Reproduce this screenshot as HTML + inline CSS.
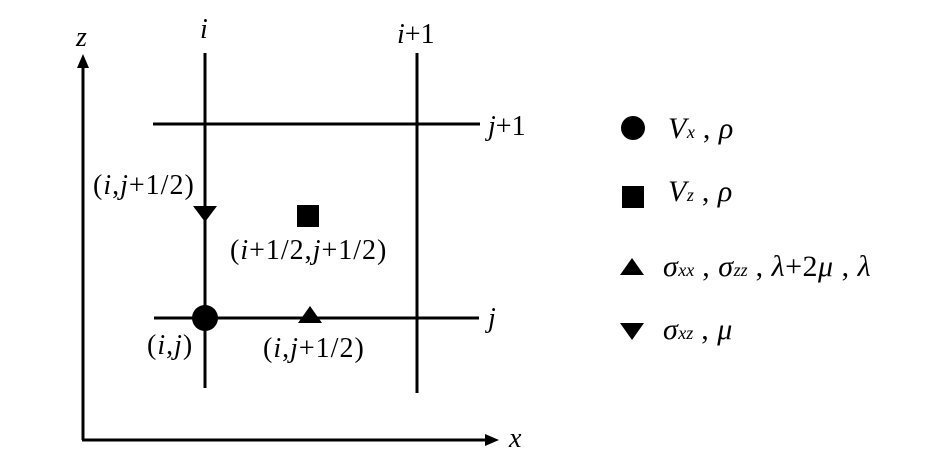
<!DOCTYPE html>
<html><head><meta charset="utf-8"><style>
html,body{margin:0;padding:0;background:#fff;width:945px;height:472px;overflow:hidden}
svg text{font-family:"Liberation Serif","DejaVu Serif",serif;font-size:28px;fill:#000}
.lab{letter-spacing:1px}
.s{font-size:18px;font-style:italic;letter-spacing:0}
.i{font-style:italic}
.L{font-size:30px;letter-spacing:0.5px}
</style></head><body>
<svg width="945" height="472" viewBox="0 0 945 472" xmlns="http://www.w3.org/2000/svg">
<g stroke="#000" stroke-width="3" fill="none">
<line x1="83" y1="66" x2="83" y2="440"/>
<line x1="82" y1="440" x2="488" y2="440"/>
<line x1="205" y1="53" x2="205" y2="388"/>
<line x1="417" y1="53" x2="417" y2="393"/>
<line x1="153" y1="124" x2="480" y2="124"/>
<line x1="154" y1="318" x2="479" y2="318"/>
</g>
<polygon points="83,54 77,68 89,68" fill="#000"/>
<polygon points="499,440 485,434 485,446" fill="#000"/>
<circle cx="205" cy="318" r="13" fill="#000"/>
<polygon points="310,306 298,323 322,323" fill="#000"/>
<polygon points="193,206 217,206 205,222" fill="#000"/>
<rect x="297" y="205" width="22" height="22" fill="#000"/>
<text x="76" y="46" class="i">z</text>
<text x="200" y="38" class="i">i</text>
<text x="397" y="43"><tspan class="i">i</tspan>+1</text>
<text x="488" y="135"><tspan class="i">j</tspan>+1</text>
<text x="488" y="327" class="i">j</text>
<text x="509" y="447" class="i">x</text>
<text x="93" y="194" class="lab">(<tspan class="i">i</tspan>,<tspan class="i">j</tspan>+1/2)</text>
<text x="230" y="259" class="lab">(<tspan class="i">i</tspan>+1/2,<tspan class="i">j</tspan>+1/2)</text>
<text x="147" y="354" class="lab">(<tspan class="i">i</tspan>,<tspan class="i">j</tspan>)</text>
<text x="263" y="357" class="lab">(<tspan class="i">i</tspan>,<tspan class="i">j</tspan>+1/2)</text>
<circle cx="633" cy="128" r="12" fill="#000"/>
<rect x="622" y="186" width="22" height="22" fill="#000"/>
<polygon points="632,258 620,275 644,275" fill="#000"/>
<polygon points="620,323 644,323 632,340" fill="#000"/>
<text x="668" y="138" class="L"><tspan class="i">V</tspan><tspan class="s">x</tspan> , <tspan class="i">ρ</tspan></text>
<text x="668" y="201" class="L"><tspan class="i">V</tspan><tspan class="s">z</tspan> , <tspan class="i">ρ</tspan></text>
<text x="663" y="276" class="L"><tspan class="i">σ</tspan><tspan class="s">xx</tspan> , <tspan class="i">σ</tspan><tspan class="s">zz</tspan> , <tspan class="i">λ</tspan>+2<tspan class="i">μ</tspan> , <tspan class="i">λ</tspan></text>
<text x="663" y="339" class="L"><tspan class="i">σ</tspan><tspan class="s">xz</tspan> , <tspan class="i">μ</tspan></text>
</svg>
</body></html>
